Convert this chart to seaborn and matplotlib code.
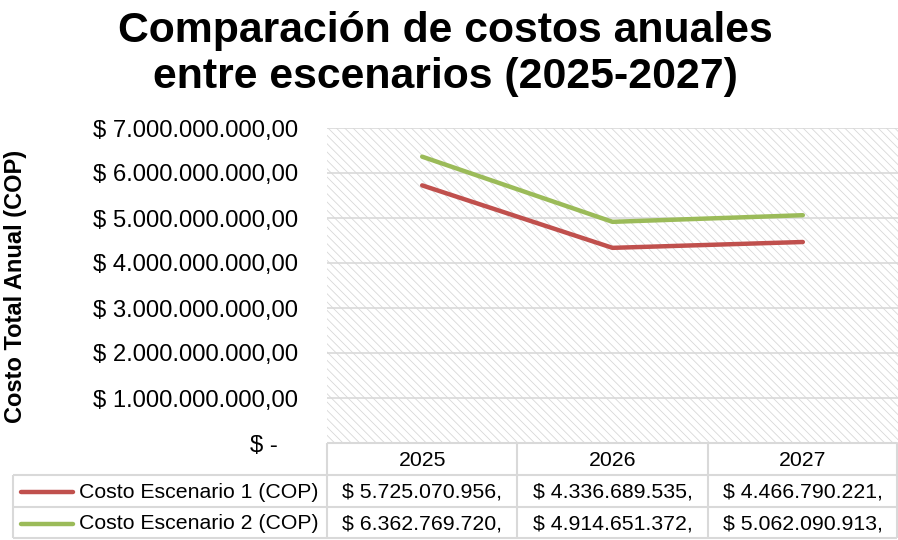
import matplotlib
matplotlib.use("Agg")
import matplotlib.pyplot as plt
import pandas as pd
import seaborn as sns

years = ["2025", "2026", "2027"]
serie_labels = ["Costo Escenario 1 (COP)", "Costo Escenario 2 (COP)"]
escenario_1 = [5725070956, 4336689535, 4466790221]
escenario_2 = [6362769720, 4914651372, 5062090913]
y_ticks = [0, 1e9, 2e9, 3e9, 4e9, 5e9, 6e9, 7e9]
colors = ["#C0504D", "#9BBB59"]

sns.set_theme(style="white")
plt.rcParams["font.family"] = ["Liberation Sans", "DejaVu Sans"]
plt.rcParams["text.color"] = "black"
plt.rcParams["ytick.color"] = "black"
plt.rcParams["hatch.linewidth"] = 0.6
plt.rcParams["hatch.color"] = "#d8d8d8"

df = pd.DataFrame({
    "year": years * 2,
    "cost": escenario_1 + escenario_2,
    "serie": [serie_labels[0]] * 3 + [serie_labels[1]] * 3,
})

W, H = 898, 540
fig = plt.figure(figsize=(W / 100, H / 100), dpi=100)

# plot area in pixels
pl, pr, pt, pb = 327, 898, 128, 443
ax = fig.add_axes([pl / W, 1 - pb / H, (pr - pl) / W, (pb - pt) / H])
ax.patch.set_facecolor("white")
ax.patch.set_hatch("\\" * 4)
ax.patch.set_edgecolor("#d8d8d8")
ax.patch.set_linewidth(0)

df["x"] = df["year"].map({y: i for i, y in enumerate(years)})
sns.lineplot(data=df, x="x", y="cost", hue="serie", palette=colors,
             linewidth=3.2, ax=ax, legend=False, sort=False)
for ln in ax.lines:
    ln.set_solid_capstyle("round")
    ln.set_solid_joinstyle("round")

ax.set_xlim(-0.5, len(years) - 0.5)
ax.set_ylim(0, 7e9)
ax.set_yticks(y_ticks)


def fmt(v):
    if v == 0:
        return "$ -   "
    s = f"{int(v):,}".replace(",", ".")
    return f"$ {s},00"


ax.set_yticklabels([fmt(v) for v in y_ticks], fontsize=17.2, color="black")
ax.set_xticks([])
ax.tick_params(axis="y", length=0, pad=21)
for y in y_ticks:
    ax.axhline(y, color="#d9d9d9", linewidth=1.2, zorder=0.5)
for s in ax.spines.values():
    s.set_visible(False)
ax.set_xlabel("")
ax.set_ylabel("")

fig.text(0.496, 1 - 54 / H, "Comparación de costos anuales\nentre escenarios (2025-2027)",
         ha="center", va="center", fontsize=30.8, fontweight="bold", linespacing=1.18)
fig.text(16 / W, 1 - 286 / H, "Costo Total Anual (COP)", rotation=90,
         ha="center", va="center", fontsize=17, fontweight="bold")

# data table
tb = fig.add_axes([0, 0, 1, 1], facecolor="none")
tb.set_xlim(0, W)
tb.set_ylim(H, 0)
tb.axis("off")
grid_c = "#d9d9d9"
col_w = (pr - pl) / len(years)
edges = [pl + i * col_w for i in range(len(years) + 1)]
rows = [pb, 475, 507, 538]
tb.hlines(rows[0], pl, pr - 1, color=grid_c, lw=1.5)
tb.hlines(rows[1:], 13, pr - 1, color=grid_c, lw=1.5)
for e in edges:
    tb.vlines(min(e, pr - 1), rows[0], rows[-1], color=grid_c, lw=1.5)
tb.vlines(13, rows[1], rows[-1], color=grid_c, lw=1.5)

for i, y in enumerate(years):
    tb.text(edges[i] + col_w / 2, (rows[0] + rows[1]) / 2 + 1, y,
            ha="center", va="center", fontsize=15.3)
for r, (lab, vals, c) in enumerate(zip(serie_labels, [escenario_1, escenario_2], colors)):
    yc = (rows[r + 1] + rows[r + 2]) / 2 + 1
    tb.plot([21, 73], [yc, yc], color=c, lw=3.2, solid_capstyle="round")
    tb.text(79, yc, lab, ha="left", va="center", fontsize=15.3)
    for i, v in enumerate(vals):
        s = f"{int(v):,}".replace(",", ".")
        tb.text(edges[i] + col_w / 2, yc, f"$ {s},", ha="center", va="center", fontsize=15.3)

fig.savefig("out.png", dpi=100)
